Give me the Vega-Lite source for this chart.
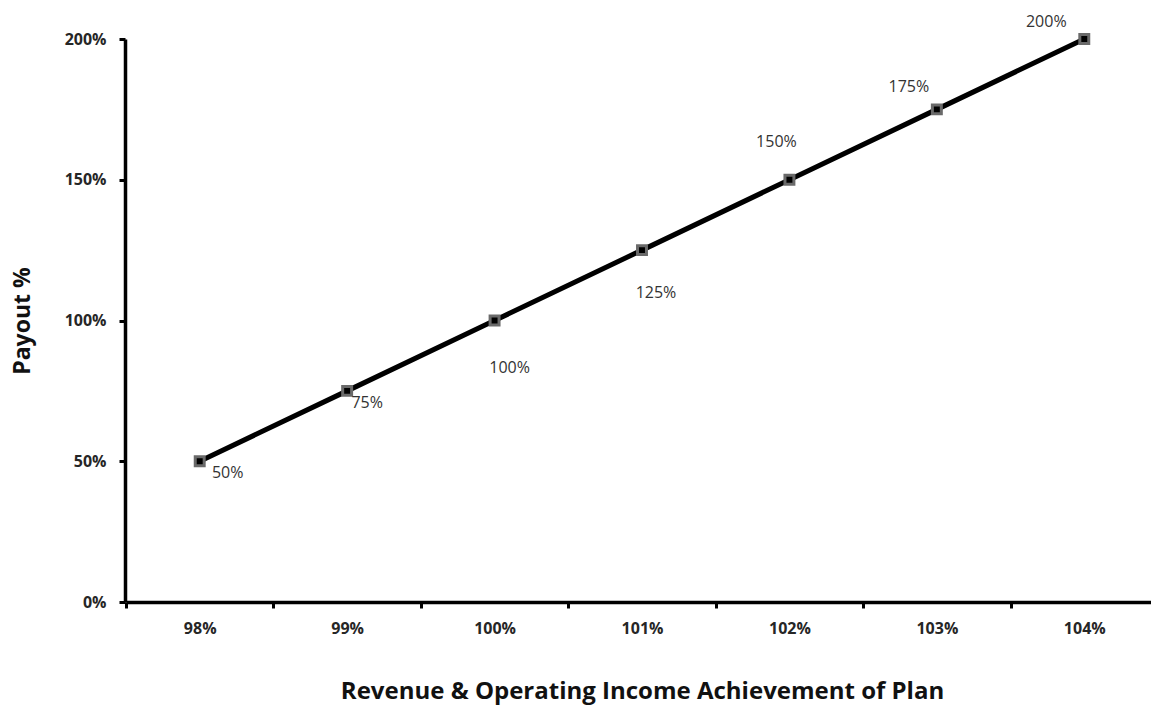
{
  "$schema": "https://vega.github.io/schema/vega-lite/v6.json",
  "width": 1026,
  "height": 563,
  "autosize": "none",
  "padding": {"left": 125, "top": 39, "right": 0, "bottom": 111},
  "background": "white",
  "config": {
    "view": {"stroke": null},
    "font": "Open Sans",
    "axis": {"grid": false, "domainColor": "black", "domainWidth": 3.5, "tickColor": "black", "tickWidth": 3, "tickSize": 6, "labelFont": "Open Sans", "labelFontWeight": "bold", "labelFontSize": 16, "labelColor": "#262626", "titleFont": "Open Sans", "titleFontWeight": "bold", "titleColor": "#111111"}
  },
  "data": {
    "values": [
      {"achievement": "98%", "payout": 0.5, "label": "50%"},
      {"achievement": "99%", "payout": 0.75, "label": "75%"},
      {"achievement": "100%", "payout": 1.0, "label": "100%"},
      {"achievement": "101%", "payout": 1.25, "label": "125%"},
      {"achievement": "102%", "payout": 1.5, "label": "150%"},
      {"achievement": "103%", "payout": 1.75, "label": "175%"},
      {"achievement": "104%", "payout": 2.0, "label": "200%"}
    ]
  },
  "encoding": {
    "x": {
      "field": "achievement", "type": "ordinal", "sort": null,
      "scale": {"type": "band", "range": [1, 1033], "paddingInner": 0, "paddingOuter": 0},
      "axis": {"labelAngle": 0, "labelPadding": 12, "tickBand": "extent", "title": "Revenue & Operating Income Achievement of Plan", "titleFontSize": 24, "titlePadding": 43}
    },
    "y": {
      "field": "payout", "type": "quantitative",
      "scale": {"domain": [0, 2]},
      "axis": {"values": [0, 0.5, 1, 1.5, 2], "format": ".0%", "labelPadding": 13, "title": "Payout %", "titleFontSize": 23, "titlePadding": 30}
    }
  },
  "layer": [
    {"mark": {"type": "line", "color": "black", "strokeWidth": 5}},
    {"mark": {"type": "point", "shape": "square", "filled": true, "fill": "black", "stroke": "#6a6a6a", "strokeWidth": 3, "size": 80, "opacity": 1}},
    {"transform": [{"filter": "datum.label == '50%'"}], "mark": {"type": "text", "dx": 28, "dy": 12, "fontSize": 16, "color": "#333333"}, "encoding": {"text": {"field": "label"}}},
    {"transform": [{"filter": "datum.label == '75%'"}], "mark": {"type": "text", "dx": 20, "dy": 12, "fontSize": 16, "color": "#333333"}, "encoding": {"text": {"field": "label"}}},
    {"transform": [{"filter": "datum.label == '100%'"}], "mark": {"type": "text", "dx": 15, "dy": 47, "fontSize": 16, "color": "#333333"}, "encoding": {"text": {"field": "label"}}},
    {"transform": [{"filter": "datum.label == '125%'"}], "mark": {"type": "text", "dx": 14, "dy": 43, "fontSize": 16, "color": "#333333"}, "encoding": {"text": {"field": "label"}}},
    {"transform": [{"filter": "datum.label == '150%'"}], "mark": {"type": "text", "dx": -13, "dy": -38, "fontSize": 16, "color": "#333333"}, "encoding": {"text": {"field": "label"}}},
    {"transform": [{"filter": "datum.label == '175%'"}], "mark": {"type": "text", "dx": -28, "dy": -22, "fontSize": 16, "color": "#333333"}, "encoding": {"text": {"field": "label"}}},
    {"transform": [{"filter": "datum.label == '200%'"}], "mark": {"type": "text", "dx": -38, "dy": -17, "fontSize": 16, "color": "#333333"}, "encoding": {"text": {"field": "label"}}}
  ]
}
